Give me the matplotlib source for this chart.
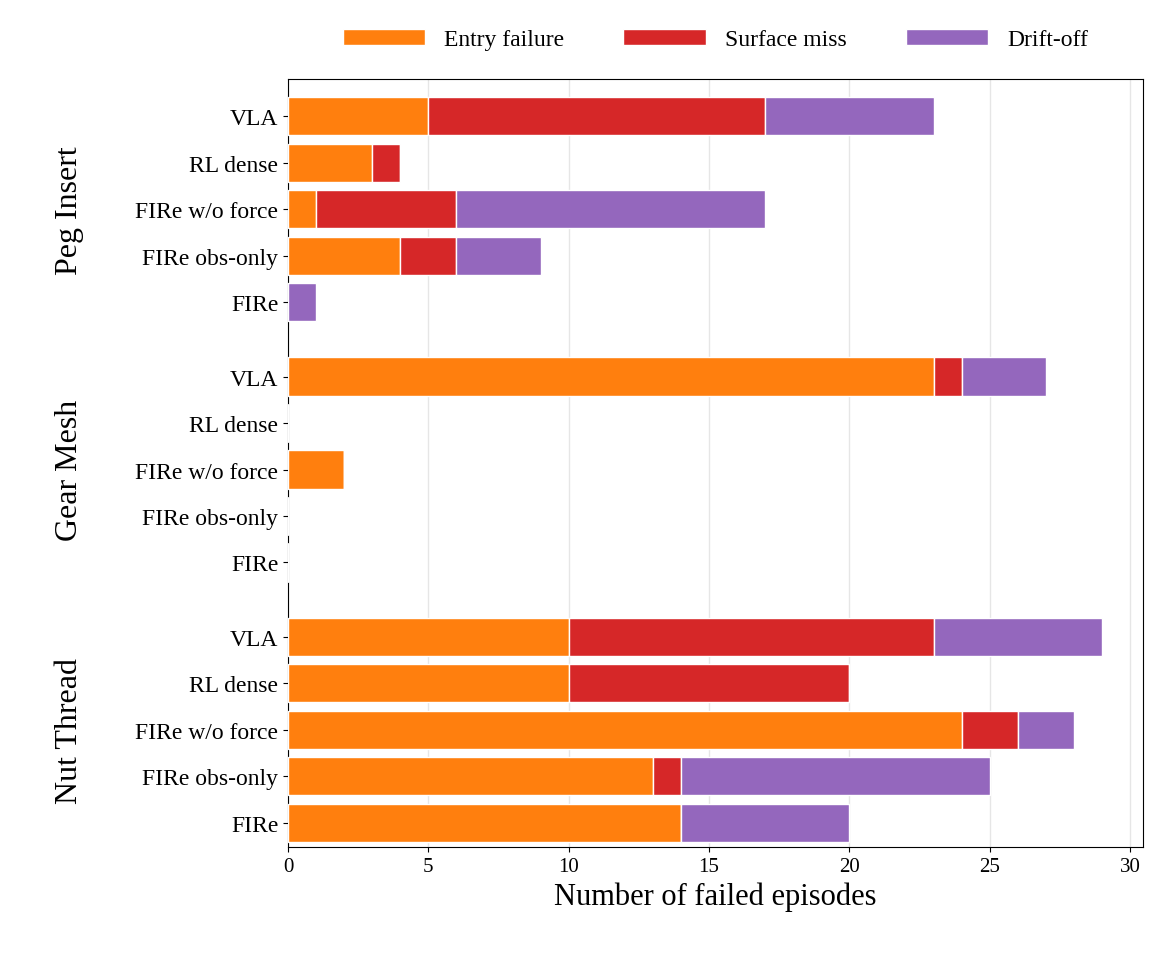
import numpy as np
import matplotlib.pyplot as plt

plt.rcParams['font.family'] = ['Liberation Serif', 'DejaVu Serif']

groups = ["Peg Insert", "Gear Mesh", "Nut Thread"]
methods = ["VLA", "RL dense", "FIRe w/o force", "FIRe obs-only", "FIRe"]
modes = ["Entry failure", "Surface miss", "Drift-off"]
colors = ["#ff7f0e", "#d62728", "#9467bd"]

# rows per group in method order, columns = modes
peg = [[5, 12, 6], [3, 1, 0], [1, 5, 11], [4, 2, 3], [0, 0, 1]]
gear = [[23, 1, 3], [0, 0, 0], [2, 0, 0], [0, 0, 0], [0, 0, 0]]
nut = [[10, 13, 6], [10, 10, 0], [24, 2, 2], [13, 1, 11], [14, 0, 6]]

data = np.array(peg + gear + nut, dtype=float)
pos = np.concatenate([np.arange(5) + g * 5.6 for g in range(3)])

fig = plt.figure(figsize=(11.58, 9.62), dpi=100)
ax = fig.add_axes([288 / 1158, 1 - 848 / 962, 855 / 1158, 768 / 962])

left = np.zeros(len(pos))
for k, m in enumerate(modes):
    ax.barh(pos, data[:, k], left=left, height=0.82, color=colors[k],
            edgecolor="white", linewidth=1, label=m, zorder=3)
    left += data[:, k]

ax.set_yticks(pos)
ax.set_yticklabels(methods * 3, fontsize=17)
ax.set_ylim(15.72, -0.8)
ax.set_xlim(0, 30.46)
ax.set_xticks(range(0, 31, 5))
ax.tick_params(axis="x", labelsize=15)
ax.grid(axis="x", color="#e6e6e6", linewidth=1, zorder=0)
ax.set_xlabel("Number of failed episodes", fontsize=22)

for g, name in enumerate(groups):
    yc = g * 5.6 + 2
    ax.text(-0.255, yc, name, transform=ax.get_yaxis_transform(),
            rotation=90, ha="center", va="center", fontsize=23)

ax.legend(loc="lower center", bbox_to_anchor=(0.5, 1.01), ncol=3,
          frameon=False, fontsize=17, handlelength=3.5, columnspacing=2.5)

fig.savefig("out.png", dpi=100)
